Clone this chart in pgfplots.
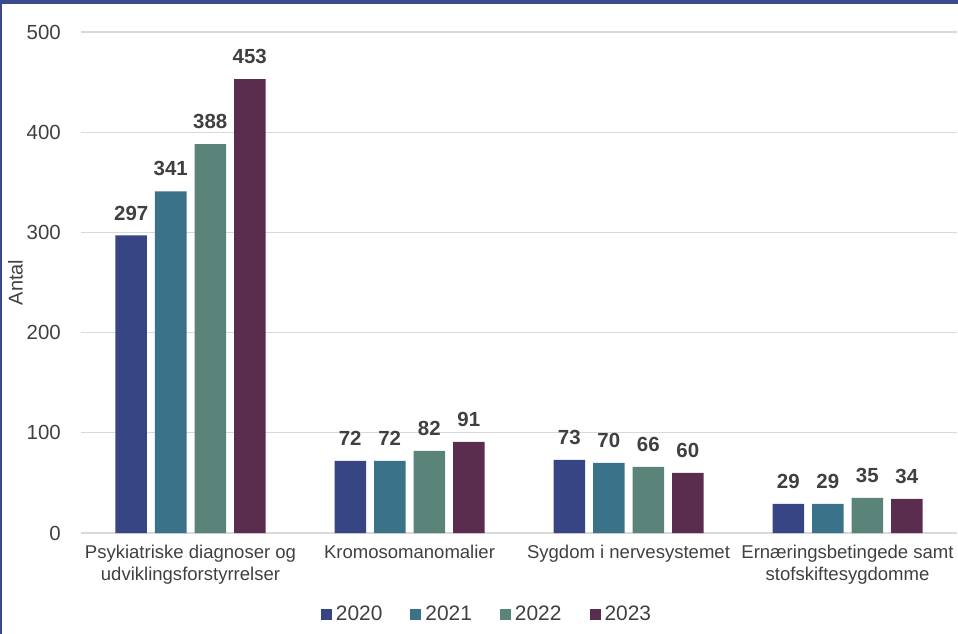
\documentclass[border=0pt]{standalone}
\usepackage{pgfplots}
\pgfplotsset{compat=1.18}
\usepackage{fontspec}
\setmainfont{Liberation Sans}
\usetikzlibrary{calc}
\definecolor{c2020}{RGB}{55,69,133}
\definecolor{c2021}{RGB}{58,115,137}
\definecolor{c2022}{RGB}{90,131,122}
\definecolor{c2023}{RGB}{90,44,78}
\definecolor{txt}{RGB}{64,64,64}
\definecolor{gridc}{RGB}{217,217,217}
\definecolor{framec}{RGB}{58,74,140}
\begin{document}
\begin{tikzpicture}
\begin{axis}[
  name=ax,
  scale only axis,
  width=876bp, height=501bp,
  xmin=-0.5, xmax=3.5,
  ymin=0, ymax=500,
  ybar=8bp, bar width=31.5bp,
  xtick={0,1,2,3},
  xticklabels={{Psykiatriske diagnoser og\\udviklingsforstyrrelser},
               {Kromosomanomalier},
               {Sygdom i nervesystemet},
               {Ernæringsbetingede samt\\stofskiftesygdomme}},
  xticklabel style={align=center, inner sep=0pt, yshift=-12bp,
    font=\fontsize{18.6}{22}\selectfont, text=txt},
  ytick={0,100,...,500},
  yticklabel style={inner sep=0pt, xshift=-20bp,
    font=\fontsize{20.5}{24}\selectfont, text=txt},
  /pgf/number format/assume math mode=true,
  major tick length=0pt,
  ymajorgrids,
  grid style={gridc, line width=1.2bp},
  axis line style={draw=none},
  ylabel={Antal},
  every axis y label/.style={at={(axis description cs:0,0.5)}, xshift=-65.5bp,
    rotate=90, anchor=center, font=\fontsize{20}{24}\selectfont, text=txt},
  nodes near coords,
  every node near coord/.append style={font=\fontsize{20.5}{24}\selectfont\bfseries,
    text=txt, anchor=south, inner sep=0pt, yshift=15bp},
  legend columns=4,
  legend image code/.code={\fill[#1] (0bp,-5.5bp) rectangle (11bp,5.5bp);},
  legend style={at={(0.4623,-0.1617)}, anchor=center, draw=none,
    font=\fontsize{21}{24}\selectfont, text=txt, nodes={inner sep=0pt},
    /tikz/every odd column/.append style={column sep=4bp},
    /tikz/every even column/.append style={column sep=28bp}},
]
\addplot[fill=c2020, draw=none] coordinates {(0,297) (1,72) (2,73) (3,29)};
\addplot[fill=c2021, draw=none] coordinates {(0,341) (1,72) (2,70) (3,29)};
\addplot[fill=c2022, draw=none] coordinates {(0,388) (1,82) (2,66) (3,35)};
\addplot[fill=c2023, draw=none] coordinates {(0,453) (1,91) (2,60) (3,34)};
\legend{2020,2021,2022,2023}
\end{axis}
\pgfresetboundingbox
\path[use as bounding box] ($(ax.south west)+(-81bp,-101bp)$) rectangle ($(ax.north east)+(1bp,32bp)$);
\fill[framec] ($(ax.north west)+(-81bp,28bp)$) rectangle ($(ax.north east)+(1bp,32bp)$);
\fill[framec] ($(ax.south west)+(-81bp,-101bp)$) rectangle ($(ax.north west)+(-79bp,32bp)$);
\end{tikzpicture}
\end{document}
